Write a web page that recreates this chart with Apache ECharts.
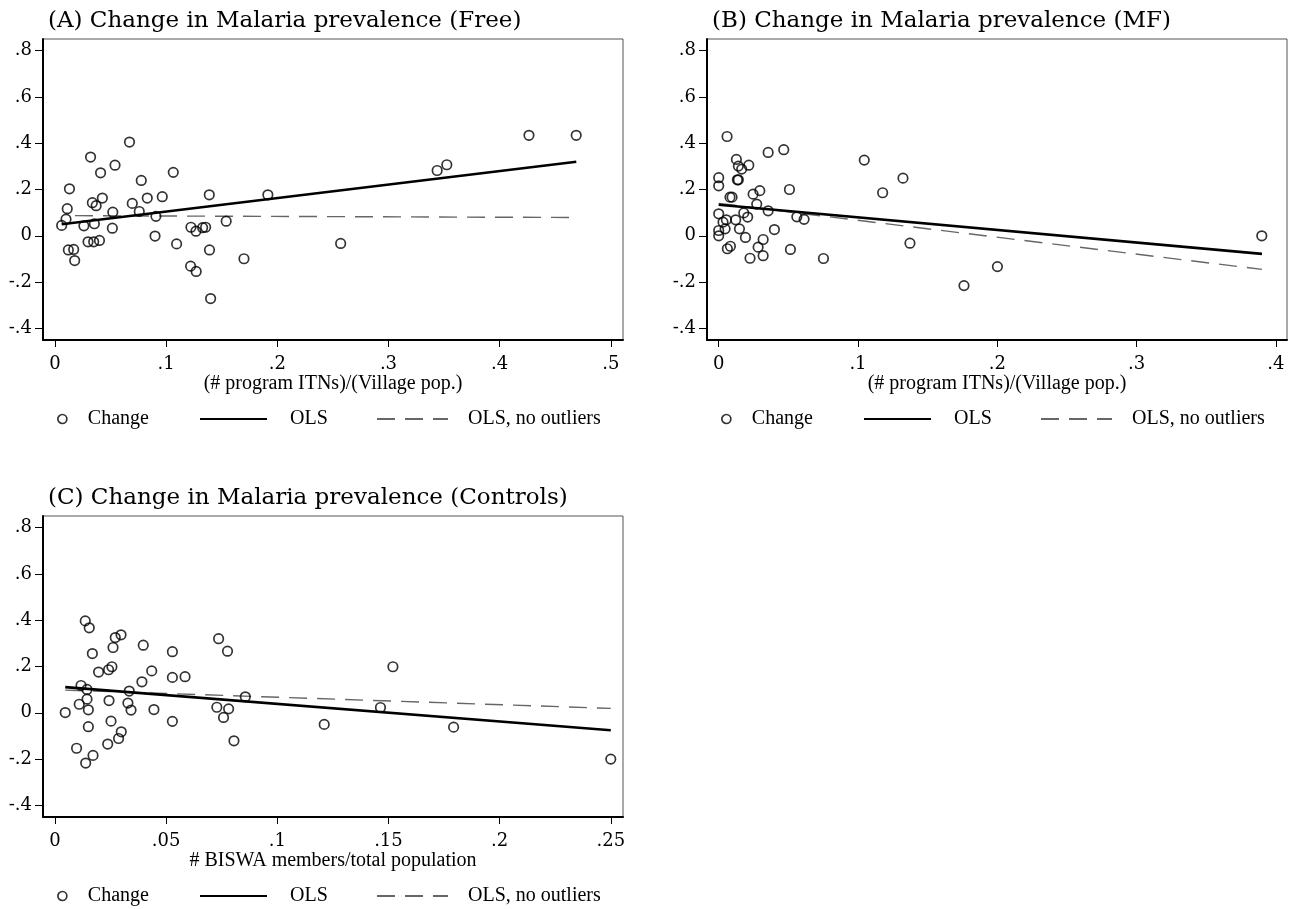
<!DOCTYPE html>
<html>
<head>
<meta charset="utf-8">
<script src="https://cdn.jsdelivr.net/npm/echarts@6/dist/echarts.min.js"></script>
<style>html,body{margin:0;padding:0;background:#fff}#c{width:1292px;height:909px}</style>
</head>
<body>
<div id="c"></div>
<script>
// ---- Data ----
const titles = ['(A) Change in Malaria prevalence (Free)', '(B) Change in Malaria prevalence (MF)', '(C) Change in Malaria prevalence (Controls)'];
const xNames = ['(# program ITNs)/(Village pop.)', '(# program ITNs)/(Village pop.)', '# BISWA members/total population'];
const yTicks = [-0.4, -0.2, 0, 0.2, 0.4, 0.6, 0.8];
const xTicksA = [0, 0.1, 0.2, 0.3, 0.4, 0.5];
const xTicksB = [0, 0.1, 0.2, 0.3, 0.4];
const xTicksC = [0, 0.05, 0.1, 0.15, 0.2, 0.25];

const A_x = [0.006,0.0099,0.011,0.013,0.012,0.0168,0.0177,0.026,0.032,0.0336,0.037,0.0354,0.0297,0.0348,0.040,0.041,0.0426,0.052,0.0516,0.054,0.067,0.0695,0.0758,0.0776,0.083,0.0908,0.090,0.0965,0.1064,0.1094,0.1223,0.1268,0.122,0.127,0.1328,0.1355,0.1388,0.139,0.140,0.154,0.170,0.1915,0.257,0.3438,0.3525,0.4264,0.4689];
const A_y = [0.045,0.072,0.117,0.203,-0.061,-0.059,-0.107,0.043,0.340,0.143,0.130,0.052,-0.026,-0.026,-0.020,0.272,0.163,0.102,0.033,0.305,0.405,0.140,0.105,0.239,0.163,0.084,-0.001,0.169,0.274,-0.035,0.037,0.020,-0.131,-0.154,0.035,0.037,0.177,-0.061,-0.271,0.063,-0.099,0.177,-0.033,0.282,0.307,0.434,0.434];

const B_x = [0.006,0,0,0,0,0,0.0031,0.0055,0.0046,0.0062,0.0084,0.0081,0.0096,0.0127,0.0141,0.0165,0.0216,0.0134,0.0141,0.0122,0.0149,0.018,0.0208,0.0192,0.0225,0.0247,0.0295,0.0273,0.0283,0.0319,0.0319,0.0355,0.0355,0.040,0.0467,0.0508,0.0515,0.0561,0.0613,0.0752,0.1045,0.1177,0.1323,0.1373,0.1761,0.2001,0.3899];
const B_y = [0.429,0.251,0.216,0.095,0.023,0.0,0.059,0.069,0.030,-0.056,-0.045,0.167,0.167,0.330,0.301,0.288,0.305,0.242,0.242,0.069,0.030,0.099,0.081,-0.007,-0.097,0.180,0.195,0.137,-0.049,-0.016,-0.086,0.360,0.108,0.027,0.372,0.200,-0.059,0.082,0.071,-0.098,0.327,0.186,0.249,-0.032,-0.215,-0.133,0.0];

const C_x = [0.0046,0.0117,0.0109,0.0097,0.0136,0.0154,0.0144,0.0144,0.015,0.015,0.0138,0.0171,0.0168,0.0196,0.0241,0.0256,0.0261,0.0271,0.0297,0.0243,0.0252,0.0237,0.0286,0.0298,0.0334,0.0328,0.0342,0.0391,0.0397,0.0435,0.0445,0.0528,0.0528,0.0528,0.0585,0.0736,0.0776,0.0728,0.0758,0.0781,0.0805,0.0856,0.1211,0.152,0.1464,0.1793,0.25];
const C_y = [0.001,0.118,0.037,-0.153,0.397,0.367,0.101,0.059,0.013,-0.060,-0.217,-0.184,0.256,0.176,0.186,0.199,0.282,0.325,0.337,0.053,-0.036,-0.135,-0.111,-0.082,0.094,0.042,0.012,0.134,0.292,0.181,0.014,0.264,0.153,-0.037,0.156,0.320,0.266,0.024,-0.020,0.017,-0.121,0.069,-0.050,0.199,0.023,-0.062,-0.200];

const olsA_x = [0.006, 0.469], olsA_y = [0.050, 0.320];
const noOutA_x = [0.018, 0.469], noOutA_y = [0.087, 0.079];
const olsB_x = [0, 0.39], olsB_y = [0.134, -0.078];
const noOutB_x = [0, 0.39], noOutB_y = [0.140, -0.145];
const olsC_x = [0.0046, 0.25], olsC_y = [0.111, -0.075];
const noOutC_x = [0.0046, 0.25], noOutC_y = [0.098, 0.019];

const legendNames = ['Change', 'OLS', 'OLS, no outliers'];

// ---- Build ----
const zip = (xs, ys) => xs.map((x, i) => [x, ys[i]]);
const fmt = v => { if (Math.abs(v) < 1e-9) return '0'; return String(+v.toFixed(3)).replace('0.', '.'); };
const TICK_FONT = 'DejaVu Serif';
const TEXT_FONT = 'Liberation Serif';

const panels = [
  {left: 43, top: 39, xMin: -0.0108, xMax: 0.511, xt: xTicksA, pts: zip(A_x, A_y), ols: zip(olsA_x, olsA_y), no: zip(noOutA_x, noOutA_y)},
  {left: 707, top: 39, xMin: -0.0084, xMax: 0.408, xt: xTicksB, pts: zip(B_x, B_y), ols: zip(olsB_x, olsB_y), no: zip(noOutB_x, noOutB_y)},
  {left: 43, top: 516, xMin: -0.0054, xMax: 0.2555, xt: xTicksC, pts: zip(C_x, C_y), ols: zip(olsC_x, olsC_y), no: zip(noOutC_x, noOutC_y)}
];

const option = {animation: false, backgroundColor: '#fff', title: [], grid: [], xAxis: [], yAxis: [], series: [], legend: []};

panels.forEach((p, i) => {
  option.title.push({text: titles[i], left: p.left + 5, top: p.top - 29, padding: 0,
    textStyle: {fontFamily: TICK_FONT, fontSize: 23, fontWeight: 'normal', color: '#000'}});
  option.grid.push({left: p.left, top: p.top, width: 580, height: 301, show: true, borderColor: '#555', borderWidth: 1, containLabel: false});
  option.xAxis.push({type: 'value', gridIndex: i, min: p.xMin, max: p.xMax,
    name: xNames[i], nameLocation: 'middle', nameGap: 22,
    nameTextStyle: {fontFamily: TEXT_FONT, fontSize: 20, color: '#000'},
    axisLine: {show: true, onZero: false, lineStyle: {color: '#000', width: 2}},
    axisTick: {show: true, length: 7, customValues: p.xt, lineStyle: {color: '#000', width: 1}},
    axisLabel: {customValues: p.xt, formatter: fmt, margin: 15, fontFamily: TICK_FONT, fontSize: 18, color: '#000', showMinLabel: true, showMaxLabel: true},
    splitLine: {show: false}});
  option.yAxis.push({type: 'value', gridIndex: i, min: -0.45, max: 0.85,
    axisLine: {show: true, onZero: false, lineStyle: {color: '#000', width: 2}},
    axisTick: {show: true, length: 8, customValues: yTicks, lineStyle: {color: '#000', width: 1}},
    axisLabel: {customValues: yTicks, formatter: fmt, margin: 11, fontFamily: TICK_FONT, fontSize: 18, color: '#000'},
    splitLine: {show: false}});
  option.series.push({name: 'OLS', type: 'line', xAxisIndex: i, yAxisIndex: i, data: p.ols, symbol: 'none',
    lineStyle: {color: '#000', width: 2.6, type: 'solid'}, itemStyle: {color: '#000'}, z: 3});
  option.series.push({name: 'OLS, no outliers', type: 'line', xAxisIndex: i, yAxisIndex: i, data: p.no, symbol: 'none',
    lineStyle: {color: '#666', width: 1.4, type: [18, 10]}, itemStyle: {color: '#666'}, z: 2});
  option.series.push({name: 'Change', type: 'scatter', xAxisIndex: i, yAxisIndex: i, data: p.pts, symbol: 'circle', symbolSize: 9.5,
    itemStyle: {color: 'rgba(255,255,255,0)', borderColor: '#000', borderWidth: 1.7}, z: 4});

  const ly = p.top + 370;
  const lx = p.left;
  const items = [
    {name: 'Change', dx: 14, w: 9, h: 9, pad: 16, line: false},
    {name: 'OLS', dx: 156, w: 67, h: 14, pad: 18, line: true},
    {name: 'OLS, no outliers', dx: 333, w: 71, h: 14, pad: 15, line: true}
  ];
  items.forEach(it => {
    const lg = {data: [it.name], left: lx + it.dx, top: ly, padding: 0, itemWidth: it.w, itemHeight: it.h,
      selectedMode: false,
      formatter: n => '{a|' + n + '}',
      textStyle: {rich: {a: {fontFamily: TEXT_FONT, fontSize: 20, color: '#000', padding: [0, 0, 0, it.pad]}}}};
    if (it.line) lg.itemStyle = {opacity: 0};
    else lg.itemStyle = {color: '#fff', borderColor: '#000', borderWidth: 1.7};
    option.legend.push(lg);
  });
});

const chart = echarts.init(document.getElementById('c'), null, {renderer: 'canvas'});
chart.setOption(option);
</script>
</body>
</html>
